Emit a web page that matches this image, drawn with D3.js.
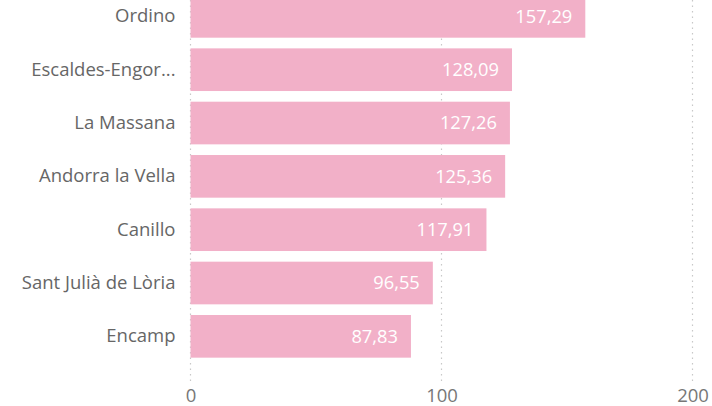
<!DOCTYPE html>
<html><head><meta charset="utf-8">
<script src="https://cdn.jsdelivr.net/npm/d3@7"></script>
<style>
html,body{margin:0;padding:0;background:#fff;overflow:hidden}
svg{display:block}
</style></head>
<body>
<svg id="chart" width="712" height="406"></svg>
<script>
const categories = ["Ordino","Escaldes-Engordany","La Massana","Andorra la Vella","Canillo","Sant Julià de Lòria","Encamp"];
const values = [157.29,128.09,127.26,125.36,117.91,96.55,87.83];
const tickValues = [0,100,200];

const font = "'Open Sans', sans-serif";
const svg = d3.select("#chart");
const x = d3.scaleLinear().domain([0,200]).range([190.5,692.5]);
const y = d3.scaleBand().domain(categories).range([-10.3,363]).paddingInner(0.2).paddingOuter(0.1);

// gridlines
svg.append("g").selectAll("line").data(tickValues).join("line")
  .attr("x1",d=>x(d)).attr("x2",d=>x(d)).attr("y1",0).attr("y2",382)
  .attr("stroke","#c8c8c8").attr("stroke-width",1.2).attr("stroke-dasharray","1.5,4");

// bars
svg.append("g").selectAll("rect").data(values).join("rect")
  .attr("x",x(0)).attr("y",(d,i)=>y(categories[i]))
  .attr("width",d=>x(d)-x(0)).attr("height",y.bandwidth())
  .attr("fill","#F2B0C8");

// value labels
const fmt = v => v.toFixed(2).replace(".",",");
svg.append("g").selectAll("text").data(values).join("text")
  .attr("x",d=>x(d)-13).attr("y",(d,i)=>y(categories[i])+y.bandwidth()/2)
  .attr("dy","0.35em").attr("text-anchor","end")
  .style("font-family",font).style("font-size","18.3px").attr("fill","#ffffff")
  .text(fmt);

// category labels (y axis)
const yAxis = svg.append("g").attr("transform","translate(175.5,0)")
  .call(d3.axisLeft(y).tickSize(0).tickPadding(0));
yAxis.select(".domain").remove();
yAxis.selectAll("text").style("font-family",font).style("font-size","18.5px").attr("fill","#666");
yAxis.selectAll("text").each(function(){
  const el = d3.select(this); const full = el.text();
  if (this.getComputedTextLength() > 162) {
    let t = full;
    while (t.length>0) { t = t.slice(0,-1); el.text(t+"..."); if (this.getComputedTextLength()<=145) break; }
  }
});

// x axis
const xAxis = svg.append("g").attr("transform","translate(0,389)")
  .call(d3.axisBottom(x).tickValues(tickValues).tickSize(0).tickPadding(0).tickFormat(d3.format("d")));
xAxis.select(".domain").remove();
xAxis.selectAll("text").style("font-family",font).style("font-size","18.5px").attr("fill","#777");
</script>
</body></html>
